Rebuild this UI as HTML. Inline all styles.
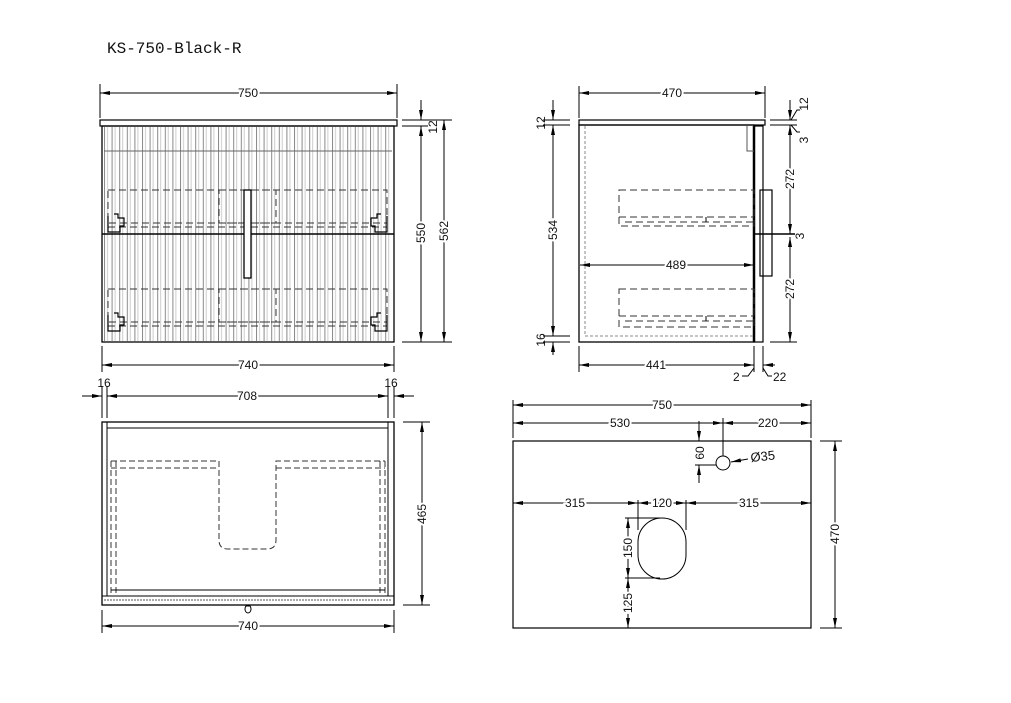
<!DOCTYPE html>
<html><head><meta charset="utf-8"><style>
html,body{margin:0;padding:0;background:#fff}
svg{display:block}
text{font-family:"Liberation Sans",sans-serif;font-size:12px;fill:#111}
.t{paint-order:stroke;stroke:#fff;stroke-width:4px}
</style></head><body>
<svg width="1011" height="703" viewBox="0 0 1011 703" xmlns="http://www.w3.org/2000/svg">
<defs>
<marker id="a" viewBox="0 0 10 4" refX="10" refY="2" markerWidth="10" markerHeight="4" markerUnits="userSpaceOnUse" orient="auto-start-reverse"><path d="M0,0 L10,2 L0,4z" fill="#000"/></marker>
<pattern id="fl" x="104" y="0" width="7.6" height="10" patternUnits="userSpaceOnUse"><rect x="0" y="0" width="1" height="10" fill="#888"/><rect x="3" y="0" width="1" height="10" fill="#ccc"/></pattern>
</defs>
<g fill="none" stroke="#000" stroke-width="1">
<text x="107" y="53" style="font-family:'Liberation Mono',monospace;font-size:16px" stroke="none">KS-750-Black-R</text>

<!-- FRONT VIEW -->
<rect x="100" y="120" width="297" height="6" stroke-width="1.2"/>
<rect x="104" y="127" width="287" height="214" fill="url(#fl)" stroke="none"/>
<rect x="102" y="126" width="292" height="216" stroke-width="1.3"/>
<line x1="104" y1="151" x2="392" y2="151" stroke="#666"/>
<line x1="102" y1="234" x2="394" y2="234" stroke-width="1.6"/>
<g stroke-dasharray="7,4" stroke="#333">
<rect x="108" y="190" width="279" height="33"/><line x1="108" y1="227" x2="387" y2="227"/>
<rect x="219" y="190" width="57" height="33"/>
<rect x="108" y="289" width="279" height="33"/><line x1="108" y1="326" x2="387" y2="326"/>
<rect x="219" y="289" width="57" height="33"/>
</g>
<rect x="244" y="190" width="7" height="88" stroke-width="1.3" fill="#fff"/>
<g stroke-width="1.2">
<path d="M108,216 v16 h12 v-6 h4 v-8 h-6 v-4 h-4"/><path d="M387,216 v16 h-12 v-6 h-4 v-8 h6 v-4 h4"/>
<path d="M108,315 v16 h12 v-6 h4 v-8 h-6 v-4 h-4"/><path d="M387,315 v16 h-12 v-6 h-4 v-8 h6 v-4 h4"/>
</g>
<!-- dims front -->
<line x1="100" y1="84" x2="100" y2="118"/><line x1="397" y1="84" x2="397" y2="118"/>
<line x1="100" y1="93" x2="397" y2="93" marker-start="url(#a)" marker-end="url(#a)"/>
<text x="248" y="97" text-anchor="middle" class="t">750</text>
<line x1="102" y1="346" x2="102" y2="372"/><line x1="394" y1="346" x2="394" y2="372"/>
<line x1="102" y1="365" x2="394" y2="365" marker-start="url(#a)" marker-end="url(#a)"/>
<text x="248" y="369" text-anchor="middle" class="t">740</text>
<line x1="402" y1="120" x2="452" y2="120"/><line x1="402" y1="126" x2="428" y2="126"/><line x1="402" y1="342" x2="452" y2="342"/>
<line x1="421" y1="100" x2="421" y2="120" marker-end="url(#a)"/>
<line x1="421" y1="126" x2="421" y2="342" marker-start="url(#a)" marker-end="url(#a)"/>
<line x1="444" y1="120" x2="444" y2="342" marker-start="url(#a)" marker-end="url(#a)"/>
<text transform="translate(437,127) rotate(-90)" text-anchor="middle" stroke="none">12</text>
<text transform="translate(425,233) rotate(-90)" text-anchor="middle" class="t">550</text>
<text transform="translate(448,231) rotate(-90)" text-anchor="middle" class="t">562</text>

<!-- SIDE VIEW -->
<rect x="579" y="120" width="186" height="5" stroke-width="1.2"/>
<rect x="579" y="125" width="175" height="217" stroke-width="1.3"/>
<rect x="754" y="126" width="9" height="216" stroke-width="1.2"/>
<line x1="754" y1="126" x2="754" y2="342" stroke-width="2.5"/>
<path d="M585,126 V336 H754" stroke="#888" stroke-dasharray="3,2"/>
<path d="M747,126 V151 H754" stroke="#555"/>
<g stroke-dasharray="7,4" stroke="#333">
<rect x="619" y="190" width="135" height="36"/><line x1="619" y1="217" x2="754" y2="217"/><line x1="625" y1="222" x2="754" y2="222"/>
<rect x="619" y="289" width="135" height="38"/><line x1="619" y1="316" x2="754" y2="316"/><line x1="625" y1="321" x2="754" y2="321"/>
</g>
<line x1="706" y1="217" x2="706" y2="222"/><line x1="706" y1="316" x2="706" y2="321"/>
<rect x="760" y="190" width="12" height="86" stroke-width="1.2"/>
<line x1="755" y1="234" x2="795" y2="234" stroke-width="1.5"/>
<!-- dims side -->
<line x1="579" y1="86" x2="579" y2="118"/><line x1="765" y1="86" x2="765" y2="118"/>
<line x1="579" y1="93" x2="765" y2="93" marker-start="url(#a)" marker-end="url(#a)"/>
<text x="672" y="97" text-anchor="middle" class="t">470</text>
<line x1="543" y1="120" x2="570" y2="120"/><line x1="543" y1="125" x2="570" y2="125"/><line x1="543" y1="336" x2="570" y2="336"/><line x1="543" y1="342" x2="570" y2="342"/>
<line x1="553" y1="100" x2="553" y2="120" marker-end="url(#a)"/>
<line x1="553" y1="125" x2="553" y2="336" marker-start="url(#a)" marker-end="url(#a)"/>
<line x1="553" y1="342" x2="553" y2="355" marker-start="url(#a)"/>
<text transform="translate(545,123) rotate(-90)" text-anchor="middle" stroke="none">12</text>
<text transform="translate(557,230) rotate(-90)" text-anchor="middle" class="t">534</text>
<text transform="translate(545,340) rotate(-90)" text-anchor="middle" stroke="none">16</text>
<line x1="580" y1="265" x2="754" y2="265" marker-start="url(#a)" marker-end="url(#a)"/>
<text x="676" y="269" text-anchor="middle" class="t">489</text>
<line x1="579" y1="346" x2="579" y2="372"/><line x1="754" y1="346" x2="754" y2="372"/><line x1="763" y1="346" x2="763" y2="372"/>
<line x1="579" y1="365" x2="754" y2="365" marker-start="url(#a)" marker-end="url(#a)"/>
<text x="656" y="369" text-anchor="middle" class="t">441</text>
<line x1="763" y1="365" x2="775" y2="365" marker-start="url(#a)"/>
<path d="M754,368 L748,376 H742"/><path d="M763,368 L768,376 H772"/>
<text x="733" y="381" stroke="none">2</text><text x="773" y="381" stroke="none">22</text>
<line x1="770" y1="120" x2="797" y2="120"/><line x1="770" y1="125" x2="797" y2="125"/><line x1="770" y1="342" x2="797" y2="342"/>
<line x1="790" y1="100" x2="790" y2="120" marker-end="url(#a)"/>
<line x1="790" y1="125" x2="790" y2="234" marker-start="url(#a)" marker-end="url(#a)"/>
<line x1="790" y1="237" x2="790" y2="342" marker-start="url(#a)" marker-end="url(#a)"/>
<path d="M791,120 L797,110 H800"/><path d="M791,125 L797,132 H800"/>
<text transform="translate(808,104) rotate(-90)" text-anchor="middle" stroke="none">12</text>
<text transform="translate(808,140) rotate(-90)" text-anchor="middle" stroke="none">3</text>
<text transform="translate(804,236) rotate(-90)" text-anchor="middle" stroke="none">3</text>
<text transform="translate(794,179) rotate(-90)" text-anchor="middle" class="t">272</text>
<text transform="translate(794,289) rotate(-90)" text-anchor="middle" class="t">272</text>

<!-- PLAN VIEW -->
<rect x="102" y="422" width="292" height="183" stroke-width="1.3"/>
<line x1="107" y1="422" x2="107" y2="596"/><line x1="388" y1="422" x2="388" y2="596"/>
<line x1="107" y1="428" x2="388" y2="428"/>
<line x1="102" y1="596" x2="394" y2="596"/>
<line x1="104" y1="600" x2="392" y2="600" stroke="#555" stroke-dasharray="2,1"/>
<g stroke-dasharray="6,3" stroke="#333">
<path d="M111,461 H219 V540 Q219,549 228,549 H267 Q276,549 276,540 V461 H385"/>
<line x1="111" y1="468" x2="219" y2="468"/><line x1="276" y1="468" x2="385" y2="468"/>
<line x1="111" y1="461" x2="111" y2="596"/><line x1="116" y1="461" x2="116" y2="596"/>
<line x1="385" y1="461" x2="385" y2="596"/><line x1="380" y1="461" x2="380" y2="596"/>
</g>
<line x1="111" y1="590" x2="385" y2="590"/>
<path d="M246,606 a3,4 0 1,0 4,0 z" />
<line x1="102" y1="386" x2="102" y2="418"/><line x1="107" y1="386" x2="107" y2="418"/><line x1="388" y1="386" x2="388" y2="418"/><line x1="394" y1="386" x2="394" y2="418"/>
<line x1="82" y1="396" x2="102" y2="396" marker-end="url(#a)"/>
<line x1="107" y1="396" x2="388" y2="396" marker-start="url(#a)" marker-end="url(#a)"/>
<line x1="414" y1="396" x2="394" y2="396" marker-end="url(#a)"/>
<text x="247" y="400" text-anchor="middle" class="t">708</text>
<text x="104" y="387" text-anchor="middle" stroke="none">16</text><text x="391" y="387" text-anchor="middle" stroke="none">16</text>
<line x1="403" y1="422" x2="430" y2="422"/><line x1="403" y1="605" x2="430" y2="605"/>
<line x1="422" y1="422" x2="422" y2="605" marker-start="url(#a)" marker-end="url(#a)"/>
<text transform="translate(426,514) rotate(-90)" text-anchor="middle" class="t">465</text>
<line x1="102" y1="610" x2="102" y2="633"/><line x1="394" y1="610" x2="394" y2="633"/>
<line x1="102" y1="626" x2="394" y2="626" marker-start="url(#a)" marker-end="url(#a)"/>
<text x="248" y="630" text-anchor="middle" class="t">740</text>

<!-- TOP VIEW -->
<rect x="513" y="441" width="298" height="187" stroke-width="1.2"/>
<circle cx="723" cy="463" r="7"/>
<rect x="638" y="518" width="48" height="61" rx="24" ry="24"/>
<line x1="513" y1="400" x2="513" y2="438"/><line x1="811" y1="400" x2="811" y2="438"/>
<line x1="513" y1="405" x2="811" y2="405" marker-start="url(#a)" marker-end="url(#a)"/>
<text x="662" y="409" text-anchor="middle" class="t">750</text>
<line x1="513" y1="423" x2="723" y2="423" marker-start="url(#a)" marker-end="url(#a)"/>
<line x1="723" y1="423" x2="811" y2="423" marker-start="url(#a)" marker-end="url(#a)"/>
<line x1="723" y1="418" x2="723" y2="456"/>
<text x="620" y="427" text-anchor="middle" class="t">530</text>
<text x="768" y="427" text-anchor="middle" class="t">220</text>
<line x1="699" y1="421" x2="699" y2="441" marker-end="url(#a)"/>
<line x1="699" y1="483" x2="699" y2="465" marker-end="url(#a)"/>
<line x1="695" y1="465" x2="716" y2="465"/>
<text transform="translate(704,453) rotate(-90)" text-anchor="middle" stroke="none">60</text>
<line x1="748" y1="459" x2="731" y2="462" marker-end="url(#a)"/>
<text x="751" y="462" stroke="none" style="font-size:13px" transform="rotate(-6 751 462)">Ø35</text>
<line x1="513" y1="503" x2="638" y2="503" marker-start="url(#a)" marker-end="url(#a)"/>
<line x1="638" y1="503" x2="686" y2="503" marker-start="url(#a)" marker-end="url(#a)"/>
<line x1="686" y1="503" x2="811" y2="503" marker-start="url(#a)" marker-end="url(#a)"/>
<line x1="638" y1="500" x2="638" y2="530"/><line x1="686" y1="500" x2="686" y2="530"/>
<text x="575" y="507" text-anchor="middle" class="t">315</text>
<text x="662" y="507" text-anchor="middle" class="t">120</text>
<text x="749" y="507" text-anchor="middle" class="t">315</text>
<line x1="625" y1="518" x2="660" y2="518"/><line x1="625" y1="578" x2="660" y2="578"/>
<line x1="628" y1="518" x2="628" y2="578" marker-start="url(#a)" marker-end="url(#a)"/>
<line x1="628" y1="578" x2="628" y2="628" marker-start="url(#a)" marker-end="url(#a)"/>
<text transform="translate(632,548) rotate(-90)" text-anchor="middle" class="t">150</text>
<text transform="translate(632,603) rotate(-90)" text-anchor="middle" class="t">125</text>
<line x1="820" y1="441" x2="842" y2="441"/><line x1="820" y1="628" x2="842" y2="628"/>
<line x1="835" y1="441" x2="835" y2="628" marker-start="url(#a)" marker-end="url(#a)"/>
<text transform="translate(839,534) rotate(-90)" text-anchor="middle" class="t">470</text>
</g>
</svg>
</body></html>
